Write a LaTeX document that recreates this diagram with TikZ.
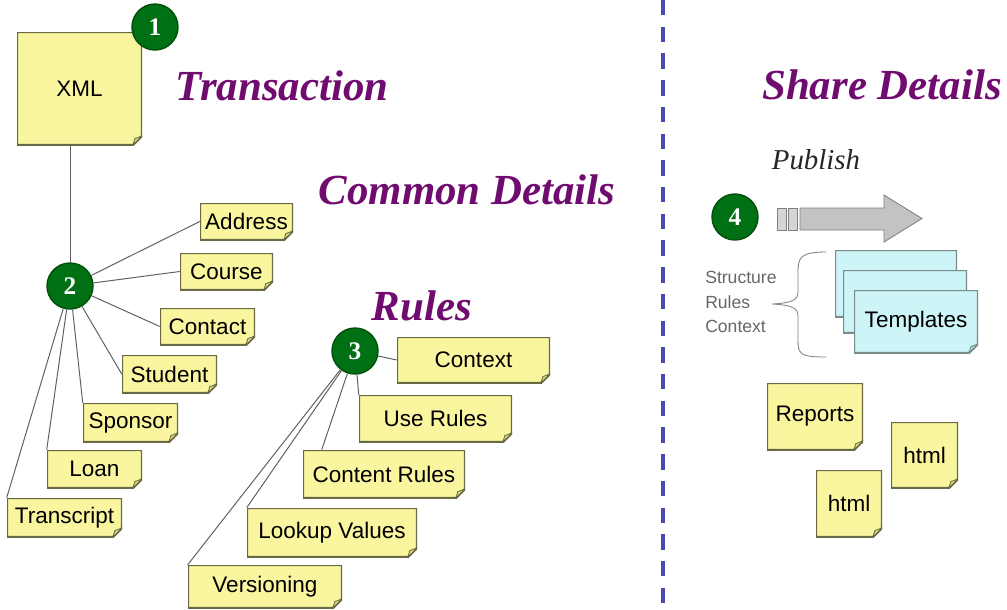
\documentclass[tikz,border=0pt]{standalone}
\usepackage{fontspec}
\setmainfont{Liberation Serif}
\newfontfamily\notesans{Liberation Sans}
\usetikzlibrary{calc}
\definecolor{notefill}{RGB}{250,246,160}
\definecolor{notefold}{RGB}{222,216,120}
\definecolor{notebd}{RGB}{105,105,70}
\definecolor{tplfill}{RGB}{205,244,246}
\definecolor{tplfold}{RGB}{170,210,212}
\definecolor{tplbd}{RGB}{120,140,140}
\definecolor{numgreen}{RGB}{0,112,20}
\definecolor{numbd}{RGB}{0,80,10}
\definecolor{headpurple}{RGB}{112,12,112}
\definecolor{sepblue}{RGB}{75,75,175}
\definecolor{arrowgray}{RGB}{195,195,195}
\definecolor{linkgray}{RGB}{95,95,95}
\begin{document}
\begin{tikzpicture}[x=0.25mm,y=-0.25mm,
  bd/.store in=\bdcol, bd=notebd,
  fold/.store in=\foldcol, fold=notefold,
  note/.style={fill=notefill, inner sep=0pt,
    font=\notesans\fontsize{16}{18}\selectfont,
    path picture={
      \fill[white] (path picture bounding box.south east) -- ++(-9,0) -- ++(9,-9) -- cycle;
      \draw[\bdcol, line width=1.7pt] ([xshift=-2.25mm]path picture bounding box.south east)
        -- (path picture bounding box.south west) -- (path picture bounding box.north west)
        -- (path picture bounding box.north east)
        -- ([yshift=2.25mm]path picture bounding box.south east) -- cycle;
      \filldraw[draw=\bdcol, fill=\foldcol, line width=0.6pt]
        ([xshift=-2.25mm]path picture bounding box.south east)
        -- ([yshift=2.25mm]path picture bounding box.south east)
        -- ([xshift=-1.8mm,yshift=1.6mm]path picture bounding box.south east) -- cycle;}},
  tpl/.style={note, fill=tplfill, bd=tplbd, fold=tplfold},
  sz/.style 2 args={minimum width=#1*0.25mm, minimum height=#2*0.25mm},
  num/.style={circle, fill=numgreen, draw=numbd, line width=1pt, inner sep=0pt,
    minimum size=46*0.25mm, text=white, font=\bfseries\fontsize{18}{18}\selectfont},
  head/.style={text=headpurple, font=\bfseries\itshape\fontsize{30.5}{32}\selectfont},
  link/.style={draw=linkgray, line width=0.7pt}]
\useasboundingbox (0,0) rectangle (1007,609);

% left: transaction / common details / rules
\node[note, sz={125}{113}] (xml) at (79.5,88.5) {XML};
\node[num] (c1) at (155,27) {1};
\node[head] (trans) at (282,86) {Transaction};
\node[head] (common) at (467,190) {Common Details};
\node[head] (rules) at (422,306) {Rules};

\node[note, sz={93}{37}] (address) at (246.5,221.5) {Address};
\node[note, sz={93}{37}] (course) at (226.5,271.5) {Course};
\node[note, sz={95}{37}] (contact) at (207.5,326.5) {Contact};
\node[note, sz={95}{38}] (student) at (169.5,374) {Student};
\node[note, sz={95}{39}] (sponsor) at (130.5,422.5) {Sponsor};
\node[note, sz={95}{38}] (loan) at (94.5,469) {Loan};
\node[note, sz={115}{39}] (transcript) at (64.5,517.5) {Transcript};

\node[note, sz={153}{46}] (context) at (473.5,360) {Context};
\node[note, sz={153}{47}] (userules) at (435.5,418.5) {Use Rules};
\node[note, sz={162}{48}] (content) at (384,474) {Content Rules};
\node[note, sz={170}{49}] (lookup) at (332,532.5) {Lookup Values};
\node[note, sz={154}{43}] (versioning) at (265,586.5) {Versioning};

\node[num] (c2) at (70,286) {2};
\node[num] (c3) at (355,351) {3};

\draw[link] (c2.north) -- (c2.north |- xml.south);
\draw[link] (c2) -- (address.west);
\draw[link] (c2) -- (course.west);
\draw[link] (c2) -- (contact.west);
\draw[link] (c2) -- (student.west);
\draw[link] (c2) -- (sponsor.north west);
\draw[link] (c2) -- (loan.north west);
\draw[link] (c2) -- (transcript.north west);

\draw[link] (c3) -- (context.west);
\draw[link] (c3) -- (userules.north west);
\draw[link] (c3) -- ($(content.north west)+(19,0)$);
\draw[link] (c3) -- (lookup.north west);
\draw[link] (c3) -- (versioning.north west);

% separator
\draw[sepblue, line width=2.2pt, dash pattern=on 11 off 8] (663,0) -- (663,609);

% right: share details
\node[head] (share) at (882,85) {Share Details};
\node[text=black!85, font=\itshape\fontsize{20.5}{22}\selectfont] (publish) at (816,160) {Publish};
\node[num] (c4) at (735,217) {4};

\filldraw[draw=gray, fill=arrowgray!70, line width=0.6pt] (777,208) rectangle (786.5,230);
\filldraw[draw=gray, fill=arrowgray!70, line width=0.6pt] (788,208) rectangle (797.5,230);
\filldraw[draw=gray, fill=arrowgray, line width=0.6pt]
  (800,208) -- (884,208) -- (884,195) -- (922,218.5) -- (884,242) -- (884,230) -- (800,230) -- cycle;

\node[anchor=west, align=left, text=black!60, inner sep=0pt,
  font=\notesans\fontsize{12.5}{17.4}\selectfont] (parts) at (705,302) {Structure\\Rules\\Context};
\draw[gray, line width=0.6pt] (826,252) .. controls (800,252) and (798,258) .. (798,272)
  -- (798,292) .. controls (798,300) and (792,303) .. (772,304)
  .. controls (792,305) and (798,308) .. (798,316) -- (798,340)
  .. controls (798,354) and (800,357) .. (826,357);

\node[tpl, sz={122}{67}] (tpla) at (896,283.5) {};
\node[tpl, sz={124}{63}] (tplb) at (905,301.5) {};
\node[tpl, sz={124}{63}] (tplc) at (916,321.5) {Templates};

\node[note, sz={96}{67}] (reports) at (815,416.5) {Reports};
\node[note, sz={67}{66}] (htmla) at (924.5,455) {html};
\node[note, sz={66}{67}] (htmlb) at (849,503.5) {html};
\end{tikzpicture}
\end{document}
